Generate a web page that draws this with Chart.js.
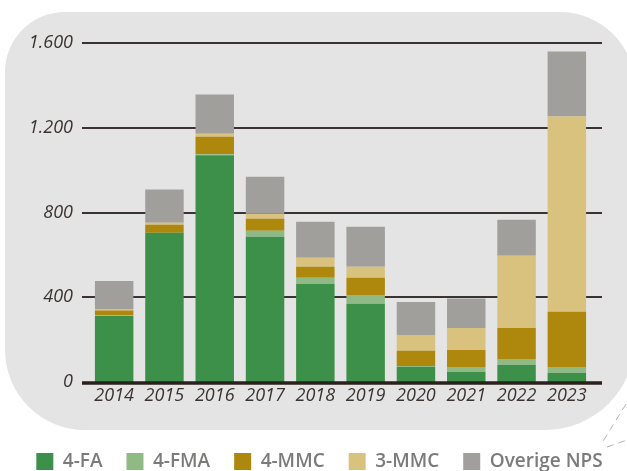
<!DOCTYPE html>
<html><head><meta charset="utf-8">
<script src="https://cdn.jsdelivr.net/npm/chart.js@4.4.0/dist/chart.umd.min.js"></script>
<style>html,body{margin:0;padding:0;background:#fff;}#wrap{width:627px;height:471px;position:relative;}</style>
</head><body><div id="wrap"><canvas id="c" width="627" height="471"></canvas></div>
<script>
const years = ['2014','2015','2016','2017','2018','2019','2020','2021','2022','2023'];
const fa4 = [312, 704, 1070, 686, 463, 369, 71, 47, 80, 43];
const fma4 = [3, 0, 5, 28, 29, 42, 5, 24, 29, 28];
const mmc4 = [23, 38, 83, 57, 52, 81, 71, 80, 146, 260];
const mmc3 = [6, 10, 14, 23, 42, 52, 75, 104, 341, 922];
const overige = [133, 156, 185, 175, 170, 189, 156, 139, 170, 307];
const yTicks = [0, 400, 800, 1200, 1600];
const seriesNames = ['4-FA', '4-FMA', '4-MMC', '3-MMC', 'Overige NPS'];
const seriesColors = ['#3d904a', '#8fba86', '#ad880c', '#d9c17e', '#a09f9c'];

function fmt(v){ return String(v).replace(/\B(?=(\d{3})+(?!\d))/g, '.'); }

const panelPlugin = {
  id: 'panel',
  beforeDraw(chart){
    const ctx = chart.ctx;
    const x0 = 5, y0 = 12, x1 = 635, y1 = 430;
    const tl = 60, tr = 75, br = 90, bl = 80;
    ctx.save();
    ctx.fillStyle = '#e4e4e4';
    ctx.beginPath();
    ctx.moveTo(x0 + tl, y0);
    ctx.lineTo(x1 - tr, y0);
    ctx.arcTo(x1, y0, x1, y0 + tr, tr);
    ctx.lineTo(x1, y1 - br);
    ctx.arcTo(x1, y1, x1 - br, y1, br);
    ctx.lineTo(x0 + bl, y1);
    ctx.arcTo(x0, y1, x0, y1 - bl, bl);
    ctx.lineTo(x0, y0 + tl);
    ctx.arcTo(x0, y0, x0 + tl, y0, tl);
    ctx.closePath();
    ctx.fill();
    ctx.strokeStyle = '#b4b4b4';
    ctx.lineWidth = 1;
    ctx.setLineDash([7, 5]);
    ctx.beginPath();
    ctx.moveTo(626, 404); ctx.lineTo(602, 443);
    ctx.moveTo(607, 447); ctx.lineTo(627, 440);
    ctx.stroke();
    ctx.restore();
  }
};

const gridPlugin = {
  id: 'customGrid',
  beforeDatasetsDraw(chart){
    const ctx = chart.ctx, y = chart.scales.y;
    ctx.save();
    ctx.strokeStyle = '#3a3331';
    ctx.lineWidth = 2;
    yTicks.forEach(v => {
      if (v === 0) return;
      const py = Math.round(y.getPixelForValue(v));
      ctx.beginPath(); ctx.moveTo(82, py); ctx.lineTo(602, py); ctx.stroke();
    });
    ctx.restore();
  },
  afterDatasetsDraw(chart){
    const ctx = chart.ctx, y = chart.scales.y;
    const py = y.getPixelForValue(0) + 1;
    ctx.save();
    ctx.strokeStyle = '#2a211c';
    ctx.lineWidth = 3.5;
    ctx.beginPath(); ctx.moveTo(82, py); ctx.lineTo(602, py); ctx.stroke();
    ctx.restore();
  }
};

const dataArrays = [fa4, fma4, mmc4, mmc3, overige];
const datasets = seriesNames.map((n, i) => ({
  label: n,
  data: dataArrays[i],
  backgroundColor: seriesColors[i],
  borderWidth: 0,
  barPercentage: 0.765,
  categoryPercentage: 1.0
}));

new Chart(document.getElementById('c'), {
  type: 'bar',
  data: { labels: years, datasets },
  options: {
    responsive: false,
    animation: false,
    devicePixelRatio: 1,
    layout: { padding: { left: 12, top: 43, right: 0, bottom: -10 } },
    plugins: {
      tooltip: { enabled: false },
      legend: {
        position: 'bottom',
        labels: {
          boxWidth: 17, boxHeight: 17, padding: 24,
          color: '#7c7b7a',
          font: { family: 'Open Sans', weight: '600', size: 19 }
        }
      }
    },
    scales: {
      x: {
        stacked: true,
        grid: { display: false, drawTicks: false },
        border: { display: false },
        ticks: { padding: 3, color: '#3b3330', font: { family: 'Open Sans', style: 'italic', size: 18 } },
        afterFit(s){ s.height = 46; }
      },
      y: {
        stacked: true,
        min: 0, max: 1600,
        afterBuildTicks(s){ s.ticks = yTicks.map(v => ({ value: v })); },
        grid: { display: false, drawTicks: false },
        border: { display: false },
        ticks: { padding: 16, color: '#3b3330', font: { family: 'Open Sans', style: 'italic', size: 18 }, callback: v => fmt(v) },
        afterFit(s){ s.width = 77; }
      },
      yR: {
        position: 'right',
        display: true,
        grid: { display: false, drawTicks: false },
        border: { display: false },
        ticks: { display: false },
        afterFit(s){ s.width = 35; }
      }
    }
  },
  plugins: [panelPlugin, gridPlugin]
});
</script>
</body></html>
